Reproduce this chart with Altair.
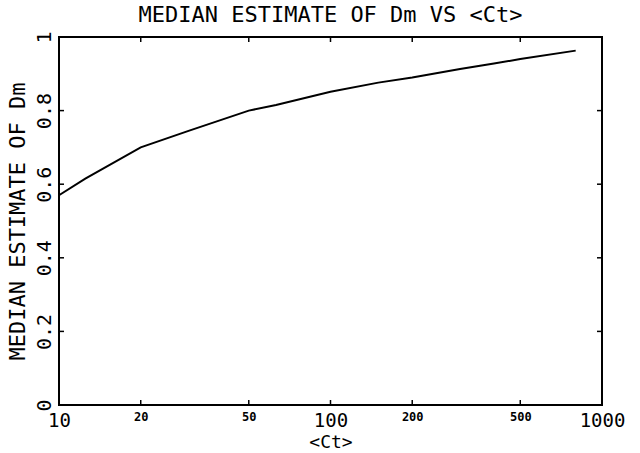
import altair as alt
import pandas as pd

# Data
ct_values = [10, 12.5, 20, 30, 50, 63, 100, 150, 200, 300, 400, 500, 800]
dm_median = [0.57, 0.615, 0.70, 0.745, 0.80, 0.815, 0.851, 0.876, 0.89, 0.913, 0.928, 0.94, 0.963]

x_ticks = [10, 20, 50, 100, 200, 500, 1000]
y_ticks = [0, 0.2, 0.4, 0.6, 0.8, 1]
x_inner_ticks = [20, 50, 100, 200, 500]
y_inner_ticks = [0.2, 0.4, 0.6, 0.8]

FONT = "DejaVu Sans Mono"

df = pd.DataFrame({"ct": ct_values, "dm": dm_median})
xt = pd.DataFrame({"t": x_inner_ticks})
yt = pd.DataFrame({"t": y_inner_ticks})

x_scale = alt.Scale(type="log", domain=[10, 1000])
y_scale = alt.Scale(domain=[0, 1])

big = "datum.value == 10 || datum.value == 100 || datum.value == 1000"

x_axis = alt.Axis(
    values=x_ticks,
    title="<Ct>",
    grid=False,
    ticks=False,
    domain=False,
    labelFont=FONT,
    labelFontSize={"condition": {"test": big, "value": 19}, "value": 12},
    labelFontWeight={"condition": {"test": big, "value": "normal"}, "value": "bold"},
    labelColor="black",
    labelBaseline="top",
    labelPadding=6,
    labelFlush=False,
    labelOverlap=False,
    labelBound=False,
    format="d",
    titleFont=FONT,
    titleFontSize=18,
    titleFontWeight="normal",
    titleColor="black",
    titlePadding=3,
)

y_axis = alt.Axis(
    values=y_ticks,
    title="MEDIAN ESTIMATE OF Dm",
    grid=False,
    ticks=False,
    domain=False,
    labelFont=FONT,
    labelFontSize=20,
    labelColor="black",
    labelAngle=270,
    labelAlign="center",
    labelBaseline="bottom",
    labelPadding=5,
    labelFlush=False,
    labelOverlap=False,
    labelBound=False,
    labelExpr="datum.value == 0 ? '0' : datum.value == 1 ? '1' : format(datum.value, '.1f')",
    titleFont=FONT,
    titleFontSize=22,
    titleFontWeight="normal",
    titleColor="black",
    titlePadding=5,
)

line = alt.Chart(df).mark_line(color="black", strokeWidth=2).encode(
    x=alt.X("ct:Q", scale=x_scale, axis=x_axis),
    y=alt.Y("dm:Q", scale=y_scale, axis=y_axis),
)

tick_style = dict(color="black", strokeWidth=1.5)

bottom_ticks = alt.Chart(xt).mark_rule(y2Offset=-5, **tick_style).encode(
    x=alt.X("t:Q", scale=x_scale), y=alt.datum(0, scale=y_scale), y2=alt.datum(0)
)
top_ticks = alt.Chart(xt).mark_rule(y2Offset=5, **tick_style).encode(
    x=alt.X("t:Q", scale=x_scale), y=alt.datum(1, scale=y_scale), y2=alt.datum(1)
)
left_ticks = alt.Chart(yt).mark_rule(x2Offset=5, **tick_style).encode(
    y=alt.Y("t:Q", scale=y_scale), x=alt.datum(10, scale=x_scale), x2=alt.datum(10)
)
right_ticks = alt.Chart(yt).mark_rule(x2Offset=-5, **tick_style).encode(
    y=alt.Y("t:Q", scale=y_scale), x=alt.datum(1000, scale=x_scale), x2=alt.datum(1000)
)

chart = (
    alt.layer(line, bottom_ticks, top_ticks, left_ticks, right_ticks)
    .properties(
        width=543,
        height=368,
        title=alt.TitleParams(
            "MEDIAN ESTIMATE OF Dm VS <Ct>",
            font=FONT,
            fontSize=22,
            fontWeight="normal",
            color="black",
            anchor="middle",
            offset=4,
        ),
        autosize=alt.AutoSizeParams(type="none"),
        padding={"left": 59, "top": 37, "right": 38, "bottom": 48},
        background="white",
    )
    .configure_view(stroke="black", strokeWidth=2)
)

chart.save("out.html", embed_options={"renderer": "svg", "actions": False})
